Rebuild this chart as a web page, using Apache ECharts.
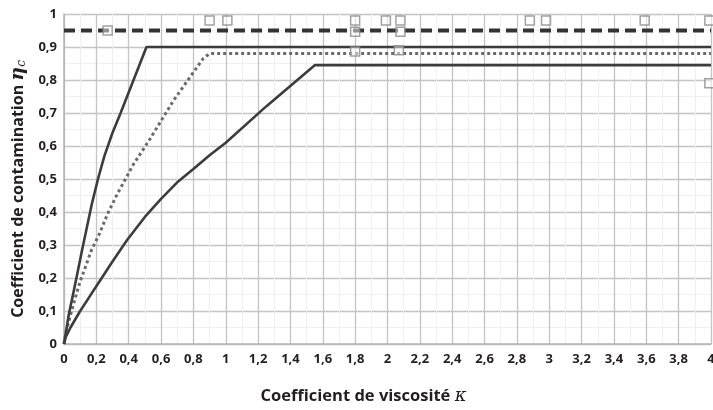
<!DOCTYPE html>
<html>
<head>
<meta charset="utf-8">
<script src="https://cdn.jsdelivr.net/npm/echarts@6/dist/echarts.min.js"></script>
<style>
  html, body { margin: 0; padding: 0; background: #fff; }
  #chart { width: 713px; height: 410px; }
</style>
</head>
<body>
<div id="chart"></div>
<script>
// Contamination coefficient versus viscosity ratio
const xTicks = ['0', '0,2', '0,4', '0,6', '0,8', '1', '1,2', '1,4', '1,6', '1,8', '2',
                '2,2', '2,4', '2,6', '2,8', '3', '3,2', '3,4', '3,6', '3,8', '4'];

// Upper solid curve, saturating at 0.9
const upperKappa = [0, 0.01, 0.03, 0.06, 0.085, 0.11, 0.14, 0.17, 0.21, 0.25, 0.30, 0.35, 0.43, 0.51, 4];
const upperEta   = [0, 0.03, 0.09, 0.16, 0.22, 0.28, 0.35, 0.42, 0.50, 0.57, 0.64, 0.70, 0.80, 0.90, 0.90];

// Dotted curve, saturating at 0.88
const dottedKappa = [0, 0.01, 0.03, 0.07, 0.10, 0.13, 0.17, 0.22, 0.27, 0.33, 0.43, 0.53, 0.68, 0.86, 0.90, 4];
const dottedEta   = [0, 0.03, 0.07, 0.14, 0.19, 0.23, 0.285, 0.335, 0.395, 0.455, 0.545, 0.62, 0.74, 0.865, 0.88, 0.88];

// Lower solid curve, saturating at 0.845
const lowerKappa = [0, 0.01, 0.04, 0.10, 0.16, 0.22, 0.30, 0.39, 0.50, 0.60, 0.70, 0.80, 0.90, 1.0, 1.25, 1.55, 4];
const lowerEta   = [0, 0.02, 0.05, 0.10, 0.145, 0.19, 0.25, 0.315, 0.385, 0.44, 0.49, 0.53, 0.572, 0.61, 0.72, 0.845, 0.845];

// Dashed reference level
const dashedKappa = [0, 4];
const dashedEta   = [0.95, 0.95];

// Individual measured points (hollow squares)
const pointKappa = [0.27, 0.90, 1.01, 1.80, 1.80, 1.80, 1.99, 2.08, 2.08, 2.07, 2.88, 2.98, 3.59, 3.99, 3.99];
const pointEta   = [0.95, 0.98, 0.98, 0.98, 0.946, 0.886, 0.98, 0.98, 0.946, 0.89, 0.98, 0.98, 0.98, 0.98, 0.79];

const pairs = (xs, ys) => xs.map((x, i) => [x, ys[i]]);

const textColor = '#231f20';
const font = '"Open Sans", "Noto Sans", sans-serif';

const chart = echarts.init(document.getElementById('chart'), null, { renderer: 'canvas' });

chart.setOption({
  animation: false,
  backgroundColor: '#fff',
  grid: { left: 64, right: 2, top: 14, bottom: 66, containLabel: false, outerBoundsMode: 'none' },
  xAxis: {
    type: 'value',
    min: 0, max: 4, interval: 0.2,
    name: '{t|Coefficient de viscosité }{k|κ}',
    nameLocation: 'middle',
    nameGap: 43,
    nameTextStyle: {
      padding: [0, 48, 0, 0],
      rich: {
        t: { fontFamily: font, fontWeight: 'bold', fontSize: 16.5, color: textColor },
        k: { fontFamily: 'DejaVu Serif, serif', fontStyle: 'italic', fontSize: 18, color: textColor }
      }
    },
    axisLine: { show: true, lineStyle: { color: '#b5b5b5', width: 1.5 } },
    axisTick: { show: false },
    axisLabel: {
      margin: 9,
      fontFamily: font, fontWeight: 'bold', fontSize: 13, color: textColor,
      formatter: (v) => xTicks[Math.round(v / 0.2)]
    },
    splitLine: { show: true, lineStyle: { color: '#c4c4c4', width: 1.3 } },
    minorTick: { show: false, splitNumber: 2 },
    minorSplitLine: { show: true, lineStyle: { color: '#f0f0f0', width: 1 } }
  },
  yAxis: {
    type: 'value',
    min: 0, max: 1, interval: 0.1,
    name: '{t|Coefficient de contamination }{e|η}{c|c}',
    nameLocation: 'middle',
    nameGap: 36,
    nameRotate: 90,
    nameTextStyle: {
      padding: [0, 20, 0, 0],
      rich: {
        t: { fontFamily: font, fontWeight: 'bold', fontSize: 16, color: textColor },
        e: { fontFamily: 'DejaVu Serif, serif', fontStyle: 'italic', fontWeight: 'bold', fontSize: 19, color: textColor },
        c: { fontFamily: 'DejaVu Serif, serif', fontStyle: 'italic', fontSize: 12, color: textColor, verticalAlign: 'bottom', padding: [6, 0, 0, 0] }
      }
    },
    axisLine: { show: true, lineStyle: { color: '#b5b5b5', width: 1.5 } },
    axisTick: { show: false },
    axisLabel: {
      margin: 7,
      fontFamily: font, fontWeight: 'bold', fontSize: 13, color: textColor,
      formatter: (v) => (Math.round(v * 10) / 10).toString().replace('.', ',')
    },
    splitLine: { show: true, lineStyle: { color: '#c4c4c4', width: 1.3 } },
    minorTick: { show: false, splitNumber: 2 },
    minorSplitLine: { show: true, lineStyle: { color: '#f0f0f0', width: 1 } }
  },
  series: [
    {
      name: 'lower',
      type: 'line',
      data: pairs(lowerKappa, lowerEta),
      symbol: 'none',
      lineStyle: { color: '#3c3c3c', width: 2.6 }
    },
    {
      name: 'dotted',
      type: 'line',
      data: pairs(dottedKappa, dottedEta),
      symbol: 'none',
      lineStyle: { color: '#6a6a6a', width: 3, type: [3, 3] }
    },
    {
      name: 'upper',
      type: 'line',
      data: pairs(upperKappa, upperEta),
      symbol: 'none',
      lineStyle: { color: '#3c3c3c', width: 2.6 }
    },
    {
      name: 'reference',
      type: 'line',
      data: pairs(dashedKappa, dashedEta),
      symbol: 'none',
      lineStyle: { color: '#333', width: 4, type: [11, 6] }
    },
    {
      name: 'points',
      type: 'scatter',
      data: pairs(pointKappa, pointEta),
      symbol: 'rect',
      symbolSize: 9,
      itemStyle: { color: 'rgba(255,255,255,0.6)', borderColor: '#8a8a8a', borderWidth: 1.5 },
      z: 5
    }
  ]
});
</script>
</body>
</html>
